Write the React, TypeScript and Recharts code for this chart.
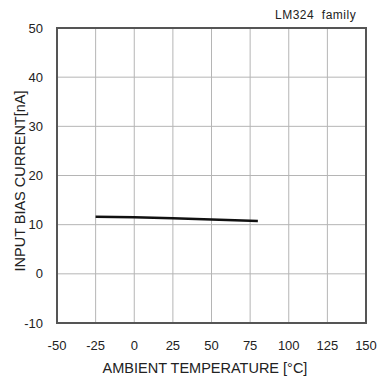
import React from 'react';
import { LineChart, Line, XAxis, YAxis, CartesianGrid, ReferenceArea } from 'recharts';

const temperatures = [-25, 0, 25, 50, 80];
const biasCurrent = [11.6, 11.5, 11.3, 11.05, 10.75];
const xTicks = [-50, -25, 0, 25, 50, 75, 100, 125, 150];
const yTicks = [-10, 0, 10, 20, 30, 40, 50];

const data = temperatures.map((t, i) => ({ t, v: biasCurrent[i] }));

const FONT = '"Liberation Sans", Arial, sans-serif';

const XLabel = () => (
  <text x={205} y={373} textAnchor="middle" fill="#222" fontSize={14.5} fontFamily={FONT}>
    AMBIENT TEMPERATURE [°C]
  </text>
);

const YLabel = () => (
  <text
    x={0}
    y={0}
    transform="translate(25, 181) rotate(-90)"
    textAnchor="middle"
    fill="#222"
    fontSize={14.5}
    fontFamily={FONT}
  >
    INPUT BIAS CURRENT[nA]
  </text>
);

export default function App() {
  return (
    <div style={{ position: 'absolute', left: 0, top: 0, width: 378, height: 381, background: '#fff' }}>
      <LineChart width={378} height={381} data={data} margin={{ top: 28, right: 12, left: 0, bottom: 0 }}>
        <CartesianGrid stroke="#b5b5b5" strokeWidth={1} />
        <XAxis
          dataKey="t"
          type="number"
          domain={[-50, 150]}
          ticks={xTicks}
          interval={0}
          height={58}
          tickLine={false}
          axisLine={false}
          tickMargin={12}
          tick={{ fill: '#222', fontSize: 13, fontFamily: FONT }}
          label={<XLabel />}
        />
        <YAxis
          type="number"
          domain={[-10, 50]}
          ticks={yTicks}
          interval={0}
          width={57}
          tickLine={false}
          axisLine={false}
          tickMargin={8}
          tick={{ fill: '#222', fontSize: 13, fontFamily: FONT }}
          label={<YLabel />}
        />
        <ReferenceArea x1={-50} x2={150} y1={-10} y2={50} fill="none" stroke="#555" strokeWidth={2} ifOverflow="visible" />
        <Line type="linear" dataKey="v" stroke="#111" strokeWidth={2.5} dot={false} isAnimationActive={false} />
      </LineChart>
      <div style={{ position: 'absolute', left: 275, top: 8, fontSize: 12, letterSpacing: 0.5, fontFamily: FONT, color: '#222', whiteSpace: 'pre', lineHeight: '14px' }}>
        {'LM324  family'}
      </div>
    </div>
  );
}
